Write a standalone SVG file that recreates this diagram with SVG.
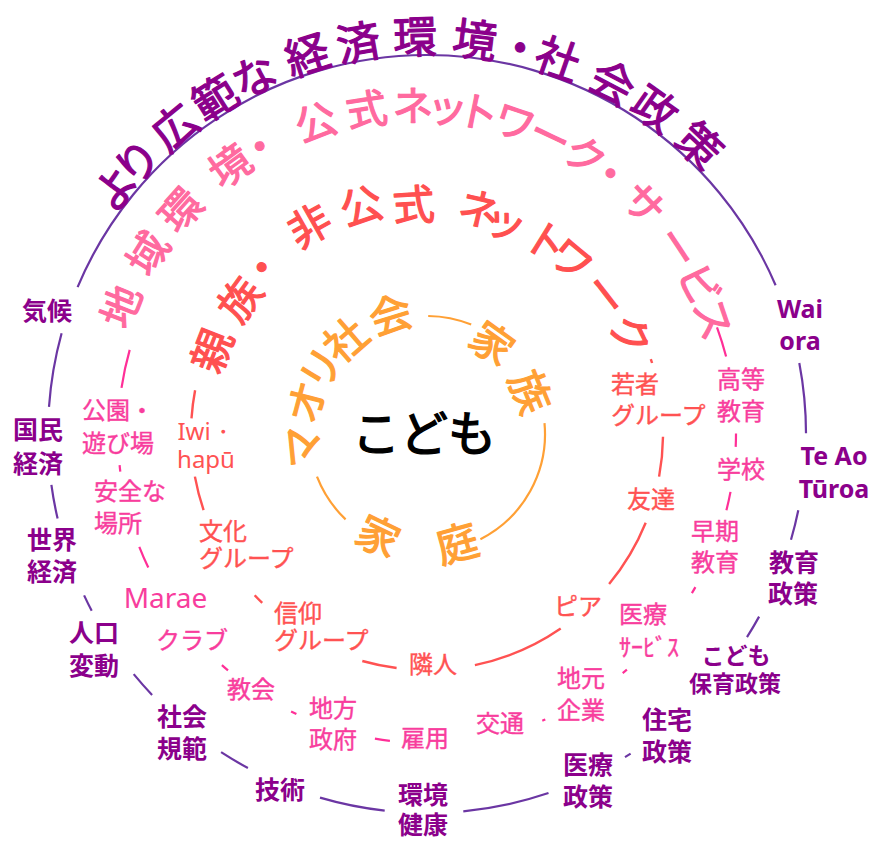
<svg xmlns="http://www.w3.org/2000/svg" width="871" height="841" viewBox="0 0 871 841">
<style>
text{font-family:"Noto Sans CJK JP","Noto Sans",sans-serif}
.lat{font-family:"Noto Sans","Liberation Sans",sans-serif}
.seg{fill:none}
.o{stroke:#6b36a3;stroke-width:2.2}
.p{stroke:#ff2f97;stroke-width:2.2}
.r{stroke:#ff5252;stroke-width:2.4}
.y{stroke:#ffa035;stroke-width:2.2}
.tt{dominant-baseline:central;stroke-width:1.2;stroke-linejoin:round}
.lp{fill:#8b008b;font-size:25px;font-weight:700;text-anchor:middle}
.lk{fill:#f83d9d;stroke:#f83d9d;stroke-width:0.4;font-size:24px}
.lr{fill:#ff5252;stroke:#ff5252;stroke-width:0.4;font-size:24px}
</style>
<defs>
<path id="pOuter" d="M427,834 A400,400 0 1 1 427,34 A400,400 0 1 1 427,834"/>
<path id="pPink" d="M415,739 A318,318 0 1 1 415,103 A318,318 0 1 1 415,739"/>
<path id="pRed" d="M427,666 A232,232 0 1 1 427,202 A232,232 0 1 1 427,666"/>
<path id="pOr1" d="M427,562 A128,128 0 1 1 427,306 A128,128 0 1 1 427,562"/>
<path id="pOr2" d="M427,549 A115,115 0 1 1 427,319 A115,115 0 1 1 427,549"/>
<path id="pOr3" d="M427,324 A110,110 0 1 0 427,544 A110,110 0 1 0 427,324"/>
</defs>

<g id="connectors">
<path class="seg o" d="M77.6,287.1 A379,379 0 0 1 775.6,285.3"/>
<path class="seg o" d="M799.3,363 A379,379 0 0 1 806,433.3"/>
<path class="seg o" d="M798.3,510.2 A379,379 0 0 1 791,539.7"/>
<path class="seg o" d="M759.1,616.6 A379,379 0 0 1 747,637.1"/>
<path class="seg o" d="M630.6,753.6 A379,379 0 0 1 625,757.1"/>
<path class="seg o" d="M548.5,793 A379,379 0 0 1 463.3,811.3"/>
<path class="seg o" d="M384.7,810.6 A379,379 0 0 1 320,797.6"/>
<path class="seg o" d="M247.9,768 A379,379 0 0 1 221.1,752.2"/>
<path class="seg o" d="M152.1,694.9 A379,379 0 0 1 133.7,674.1"/>
<path class="seg o" d="M91.7,610.8 A379,379 0 0 1 84.1,595.4"/>
<path class="seg o" d="M57.6,518.6 A379,379 0 0 1 51.4,484.8"/>
<path class="seg o" d="M49,406.9 A379,379 0 0 1 61.6,333.3"/>

<path class="seg p" d="M121.5,387.8 A309,309 0 0 1 129.7,349.9"/>
<path class="seg p" d="M120.3,471.7 A309,309 0 0 1 119.6,465.2"/>
<path class="seg p" d="M148.3,567.5 A309,309 0 0 1 139.3,546.8"/>
<path class="seg p" d="M228,670.4 A309,309 0 0 1 221.9,665.1"/>
<path class="seg p" d="M296.4,714 A309,309 0 0 1 291.1,711.5"/>
<path class="seg p" d="M389.9,740.8 A309,309 0 0 1 374.9,738.6"/>
<path class="seg p" d="M545.3,719.5 A309,309 0 0 1 542.3,720.7"/>
<path class="seg p" d="M626.9,669.7 A309,309 0 0 1 622.7,673.1"/>
<path class="seg p" d="M695.4,587.1 A309,309 0 0 1 691.9,593.1"/>
<path class="seg p" d="M730.5,491.9 A309,309 0 0 1 726.4,510.3"/>
<path class="seg p" d="M736,433.5 A309,309 0 0 1 735.7,446.9"/>
<path class="seg p" d="M717,327.3 A309,309 0 0 1 726.1,356.6"/>

<path class="seg r" d="M191.5,418.4 A236,236 0 0 1 195.1,390.2"/>
<path class="seg r" d="M203.6,510.1 A236,236 0 0 1 194.9,476.6"/>
<path class="seg r" d="M262.2,602.9 A236,236 0 0 1 254.7,595.3"/>
<path class="seg r" d="M396.6,668 A236,236 0 0 1 362.3,661"/>
<path class="seg r" d="M560.7,628.5 A236,236 0 0 1 474.9,665.1"/>
<path class="seg r" d="M645.7,522.8 A236,236 0 0 1 609.1,584.1"/>
<path class="seg r" d="M663,436.7 A236,236 0 0 1 659.1,476.6"/>
<path class="seg r" d="M650.8,359.1 A236,236 0 0 1 652.1,363"/>

<path class="seg y" d="M345.6,519.4 A118,118 0 0 1 317,476.7"/>
<path class="seg y" d="M428.2,316 A118,118 0 0 1 471.2,324.6"/>
<path class="seg y" d="M544.5,423.1 A118,118 0 0 1 480.4,539.2"/>
</g>

<g id="ring-titles">
<text id="title-outer" class="tt" font-size="44" fill="#8b008b" stroke="#8b008b"><textPath href="#pOuter" startOffset="873"><tspan dx="0 -8.4 7 6.2 1.4 13.3 9 13.3 16.7 2.1 -4.2 16 6.3 13.9">より広範な経済環境・社会政策</tspan></textPath></text>
<text id="title-pink" class="tt" font-size="41" fill="#ff6a9f" stroke="#ff6a9f"><textPath href="#pPink" startOffset="597.2"><tspan dx="0 19 13.9 25.6 -4.9 20.6 11.7 6.2 -6 -9.4 -2.7 -2.7 -0.5 -9.4 4.6 14.5 2.2 -3.2">地域環境・公式ネットワーク・サービス</tspan></textPath></text>
<text id="title-red" class="tt" font-size="42" fill="#ff5050" stroke="#ff5050"><textPath href="#pRed" startOffset="429.3"><tspan dx="0 16.7 -3.6 20 11.8 9.5 25.2 -12.9 3.8 -10 8.2 6.6" dy="-2 0 -4 -5 2 8 -1 4 0 0 0 0">親族・非公式ネットワーク</tspan></textPath></text>
<text id="title-maori" class="tt" font-size="42" fill="#ffa035" stroke="#ffa035"><textPath href="#pOr1" startOffset="167.3"><tspan dx="0 3.8 -4.4 -3.2 11.2">マオリ社会</tspan></textPath></text>
<text id="title-kazoku" class="tt" font-size="42" fill="#ffa035" stroke="#ffa035"><textPath href="#pOr2" startOffset="411.5"><tspan dx="0 22.3">家族</tspan></textPath></text>
<text id="title-katei" class="tt" font-size="42" fill="#ffa035" stroke="#ffa035"><textPath href="#pOr3" startOffset="275.2"><tspan dx="0 36.5">家庭</tspan></textPath></text>
</g>

<g id="child"><text x="424" y="451" font-size="48" text-anchor="middle" fill="#000" stroke="#000" stroke-width="1.4">こども</text></g>

<g id="purple-labels">
<g id="n-kikou"><text class="lp" x="47" y="319.5">気候</text></g>
<g id="n-kokumin"><text class="lp"><tspan x="38" y="438.5">国民</tspan><tspan x="38" y="472.5">経済</tspan></text></g>
<g id="n-sekai"><text class="lp"><tspan x="52" y="548.5">世界</tspan><tspan x="52" y="580.5">経済</tspan></text></g>
<g id="n-jinkou"><text class="lp"><tspan x="94" y="641.5">人口</tspan><tspan x="94" y="674.5">変動</tspan></text></g>
<g id="n-shakai"><text class="lp"><tspan x="182" y="725.5">社会</tspan><tspan x="182" y="757.5">規範</tspan></text></g>
<g id="n-gijutsu"><text class="lp" x="280" y="798.5">技術</text></g>
<g id="n-kankyo"><text class="lp"><tspan x="423" y="804">環境</tspan><tspan x="423" y="834">健康</tspan></text></g>
<g id="n-iryouseisaku"><text class="lp"><tspan x="588" y="773.5">医療</tspan><tspan x="588" y="805.5">政策</tspan></text></g>
<g id="n-juutaku"><text class="lp"><tspan x="667" y="728.5">住宅</tspan><tspan x="667" y="760.5">政策</tspan></text></g>
<g id="n-hoiku"><text class="lp" style="font-size:23px"><tspan x="736" y="663.7">こども</tspan><tspan x="735" y="691.7">保育政策</tspan></text></g>
<g id="n-kyouikuseisaku"><text class="lp"><tspan x="794" y="571.5">教育</tspan><tspan x="793" y="602.5">政策</tspan></text></g>
<g id="n-teao"><text class="lp lat"><tspan x="834" y="465">Te Ao</tspan><tspan x="834" y="498">Tūroa</tspan></text></g>
<g id="n-waiora"><text class="lp lat"><tspan x="800" y="318">Wai</tspan><tspan x="800" y="350">ora</tspan></text></g>
</g>

<g id="pink-labels">
<g id="n-kouen"><text class="lk"><tspan x="82" y="419">公園・</tspan><tspan x="82" y="452">遊び場</tspan></text></g>
<g id="n-anzen"><text class="lk"><tspan x="94" y="500">安全な</tspan><tspan x="94" y="532">場所</tspan></text></g>
<g id="n-marae"><text class="lk lat" style="font-size:28px;stroke-width:0" x="165.5" y="608" text-anchor="middle">Marae</text></g>
<g id="n-club"><text class="lk" x="156" y="649">クラブ</text></g>
<g id="n-kyoukai"><text class="lk" x="227" y="698">教会</text></g>
<g id="n-chihou"><text class="lk"><tspan x="309" y="717">地方</tspan><tspan x="309" y="748">政府</tspan></text></g>
<g id="n-koyou"><text class="lk" x="401" y="746.5">雇用</text></g>
<g id="n-koutsuu"><text class="lk" x="476" y="732">交通</text></g>
<g id="n-jimoto"><text class="lk"><tspan x="557" y="687">地元</tspan><tspan x="557" y="719">企業</tspan></text></g>
<g id="n-iryou"><text class="lk"><tspan x="619" y="623">医療</tspan><tspan x="619" y="656">ｻｰﾋﾞｽ</tspan></text></g>
<g id="n-souki"><text class="lk"><tspan x="691" y="540">早期</tspan><tspan x="691" y="571">教育</tspan></text></g>
<g id="n-gakkou"><text class="lk" x="717" y="478">学校</text></g>
<g id="n-koutou"><text class="lk"><tspan x="717" y="388">高等</tspan><tspan x="717" y="420">教育</tspan></text></g>
</g>

<g id="red-labels">
<g id="n-iwi"><text class="lr lat" style="stroke-width:0" text-anchor="middle"><tspan x="206" y="440">Iwi・</tspan><tspan x="206" y="468">hapū</tspan></text></g>
<g id="n-bunka"><text class="lr"><tspan x="199" y="540">文化</tspan><tspan x="199" y="566.5">グループ</tspan></text></g>
<g id="n-shinkou"><text class="lr"><tspan x="274" y="622">信仰</tspan><tspan x="274" y="649">グループ</tspan></text></g>
<g id="n-rinjin"><text class="lr" x="409" y="673">隣人</text></g>
<g id="n-pia"><text class="lr" x="554" y="615">ピア</text></g>
<g id="n-tomodachi"><text class="lr" x="627" y="508">友達</text></g>
<g id="n-wakamono"><text class="lr"><tspan x="611" y="393">若者</tspan><tspan x="611" y="424">グループ</tspan></text></g>
</g>
</svg>
